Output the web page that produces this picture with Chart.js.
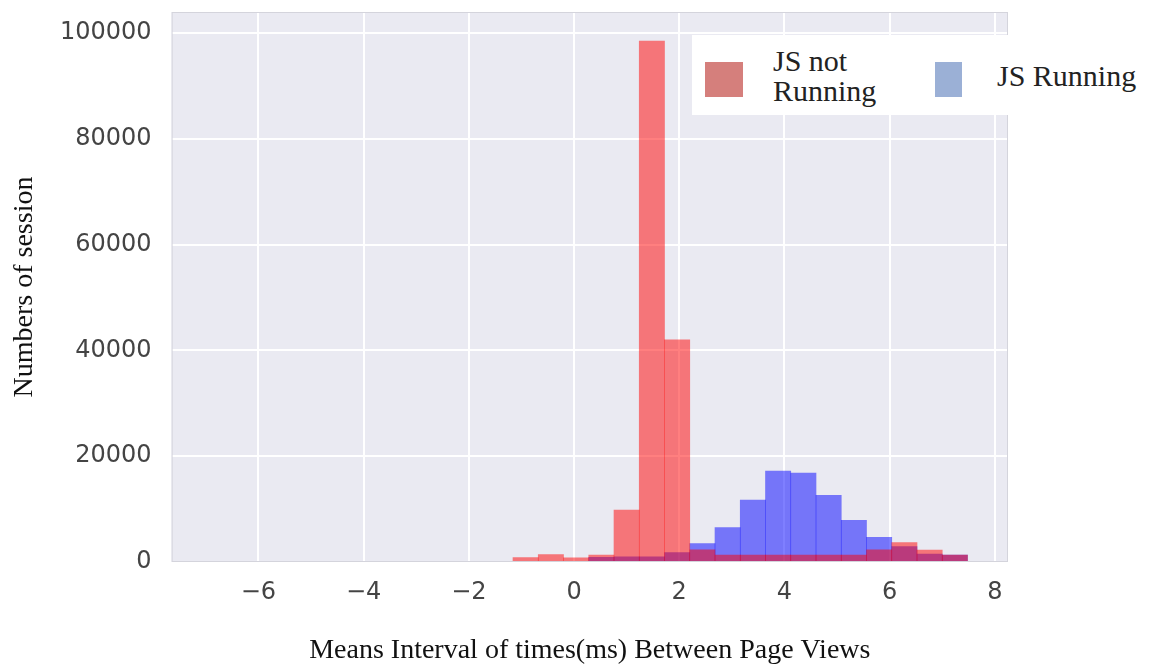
<!DOCTYPE html>
<html>
<head>
<meta charset="utf-8">
<script src="https://cdn.jsdelivr.net/npm/chart.js@4.4.1/dist/chart.umd.min.js"></script>
<style>
    html, body { margin: 0; padding: 0; background: #fff; }
    #wrap { position: relative; width: 1154px; height: 665px; }
    #legend {
        position: absolute; left: 692px; top: 35px; width: 462px; height: 80px;
        background: #fff; font-family: "Liberation Serif", "Times New Roman", serif;
        font-size: 30px; color: #222;
    }
    #legend .sw { position: absolute; width: 38px; height: 35px; }
    #legend .lbl { position: absolute; line-height: 30px; }
</style>
</head>
<body>
<div id="wrap">
    <canvas id="chart" width="1154" height="665"></canvas>
    <div id="legend">
        <div class="sw" style="left:13px;top:27px;background:#d57f7c"></div>
        <div class="lbl" style="left:81px;top:11px">JS not<br>Running</div>
        <div class="sw" style="left:243px;top:27px;width:27px;background:#9bb0d6"></div>
        <div class="lbl" style="left:305px;top:26px">JS Running</div>
    </div>
</div>
<script>
// histogram bins (centres, width 0.48)
const binCenters = [-0.92, -0.44, 0.04, 0.52, 1.00, 1.48, 1.96, 2.44, 2.92, 3.40, 3.88, 4.36, 4.84, 5.32, 5.80, 6.28, 6.76, 7.24];
const notRunning = [850, 1400, 800, 1300, 9800, 98500, 42000, 2300, 1300, 1300, 1300, 1300, 1300, 1300, 2300, 3650, 2250, 1300];
const running = [0, 0, 0, 900, 1000, 1000, 1800, 3500, 6500, 11700, 17200, 16800, 12600, 7900, 4650, 2900, 1500, 1300];
const xTicks = [-6, -4, -2, 0, 2, 4, 6, 8];
const yTicks = [0, 20000, 40000, 60000, 80000, 100000];

const toPoints = vals => binCenters.map((c, i) => ({ x: c, y: vals[i] }));

const plotBg = {
    id: 'plotBg',
    beforeDraw(chart) {
        const { ctx, chartArea: a } = chart;
        ctx.save();
        ctx.fillStyle = '#eaeaf2';
        ctx.fillRect(a.left, a.top, a.right - a.left, a.bottom - a.top);
        ctx.restore();
    },
    afterDraw(chart) {
        const { ctx, chartArea: a } = chart;
        ctx.save();
        ctx.strokeStyle = '#d4d4dc';
        ctx.lineWidth = 1;
        ctx.strokeRect(a.left + 0.5, a.top + 0.5, a.right - a.left - 1, a.bottom - a.top - 1);
        ctx.restore();
    }
};

const tickFont = { family: '"DejaVu Sans", sans-serif', size: 24, lineHeight: 1 };
const titleFont = { family: '"Liberation Serif", "Times New Roman", serif', size: 28, lineHeight: 1 };

new Chart(document.getElementById('chart').getContext('2d'), {
    type: 'bar',
    data: {
        datasets: [
            {
                label: 'JS not Running',
                data: toPoints(notRunning),
                backgroundColor: 'rgba(255,0,0,0.5)',
                borderWidth: 0
            },
            {
                label: 'JS Running',
                data: toPoints(running),
                backgroundColor: 'rgba(0,0,255,0.5)',
                borderWidth: 0
            }
        ]
    },
    options: {
        responsive: false,
        animation: false,
        grouped: false,
        barPercentage: 1,
        categoryPercentage: 1,
        layout: { padding: { left: 11, right: 146, top: 12, bottom: 0 } },
        plugins: {
            legend: { display: false },
            tooltip: { enabled: false }
        },
        scales: {
            x: {
                type: 'linear',
                offset: false,
                min: -7.65,
                max: 8.25,
                afterBuildTicks: axis => { axis.ticks = xTicks.map(v => ({ value: v })); },
                ticks: {
                    color: '#444',
                    font: tickFont,
                    padding: 19,
                    maxRotation: 0,
                    callback: v => String(v).replace('-', '\u2212')
                },
                grid: { color: '#ffffff', lineWidth: 2, drawTicks: false, offset: false },
                border: { display: false },
                title: {
                    display: true,
                    text: 'Means Interval of times(ms) Between Page Views',
                    color: '#111',
                    font: titleFont,
                    padding: { top: 13, bottom: 0 }
                }
            },
            y: {
                min: 0,
                max: 104000,
                afterBuildTicks: axis => { axis.ticks = yTicks.map(v => ({ value: v })); },
                afterFit: s => { s.paddingTop = 0; s.paddingBottom = 0; },
                ticks: { color: '#444', font: tickFont, padding: 20, callback: v => String(v) },
                grid: { color: '#ffffff', lineWidth: 2, drawTicks: false },
                border: { display: false },
                title: {
                    display: true,
                    text: 'Numbers of session',
                    color: '#111',
                    font: titleFont,
                    padding: { top: 0, bottom: 1 }
                }
            }
        }
    },
    plugins: [plotBg]
});
</script>
</body>
</html>
